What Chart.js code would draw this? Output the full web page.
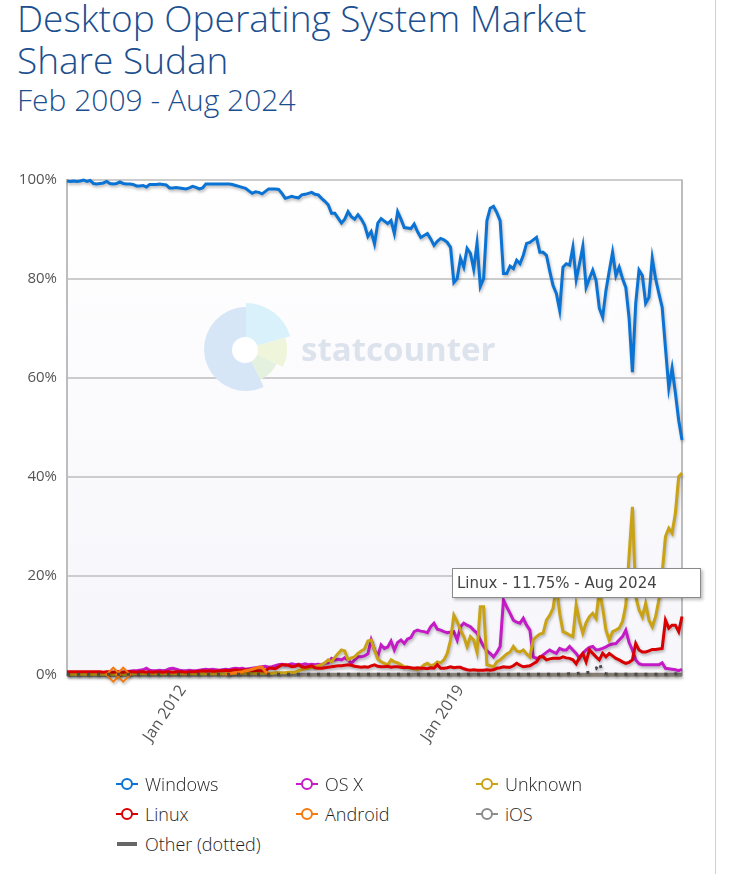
<!DOCTYPE html>
<html>
<head>
<meta charset="utf-8">
<script src="https://cdn.jsdelivr.net/npm/chart.js@4.4.1/dist/chart.umd.min.js"></script>
<style>
html, body { margin: 0; padding: 0; background: #fff; }
body { width: 729px; height: 874px; position: relative; overflow: hidden; font-family: "Open Sans", sans-serif; }
#frame { position: absolute; left: 715px; top: 0; width: 1px; height: 874px; background: #c6d2e4; }
#title { position: absolute; left: 17px; top: -3px; font-size: 37px; line-height: 42px; font-weight: 300; color: #1b4f8f; white-space: nowrap; }
#sub { position: absolute; left: 17px; top: 83px; font-size: 30px; line-height: 34px; font-weight: 300; color: #1b4f8f; white-space: nowrap; }
#chartBox { position: absolute; left: 0; top: 160px; width: 715px; height: 640px; }
#tip { position: absolute; left: 452px; top: 568px; width: 243px; height: 28px; background: #fff; border: 1px solid #8a8a8a;
       box-shadow: 2px 2px 3px rgba(0,0,0,0.25); font-family: "DejaVu Sans", sans-serif; font-size: 15px; line-height: 28px;
       color: #444; padding-left: 4px; box-sizing: content-box; white-space: nowrap; }
.leg { position: absolute; height: 22px; font-size: 18px; line-height: 22px; font-weight: 300; color: #1e1e1e; white-space: nowrap; }
.leg svg { position: absolute; left: 0; top: 4px; }
.leg span { position: absolute; left: 29px; top: 0; }
</style>
</head>
<body>
<div id="title">Desktop Operating System Market<br>Share Sudan</div>
<div id="sub">Feb 2009 - Aug 2024</div>
<div id="chartBox"><canvas id="myChart" width="715" height="640"></canvas></div>
<div id="tip">Linux - 11.75% - Aug 2024</div>
<div id="frame"></div>
<div id="legend"></div>
<script>
// monthly categories Feb 2009 .. Aug 2024
var monthNames = ["Jan", "Feb", "Mar", "Apr", "May", "Jun", "Jul", "Aug", "Sep", "Oct", "Nov", "Dec"];
var months = [];
for (var k = 0; k < 187; k++) {
    months.push(monthNames[(1 + k) % 12] + " " + (2009 + Math.floor((1 + k) / 12)));
}
var shownTicks = ["Jan 2012", "Jan 2019"];
var yTicks = [0, 20, 40, 60, 80, 100];

var windows = [
    99.7, 99.6, 99.7, 99.6, 99.7, 99.9, 99.6, 99.8, 99.2, 99.1,
    99.2, 99.3, 99.6, 99.2, 99.1, 99.2, 99.5, 99.2, 99.1, 99.1,
    99.0, 98.7, 98.7, 98.8, 98.5, 99.0, 99.0, 99.0, 99.1, 99.0,
    98.9, 98.3, 98.3, 98.4, 98.3, 98.2, 98.1, 98.3, 98.6, 98.4,
    98.1, 98.3, 99.1, 99.1, 99.1, 99.1, 99.1, 99.1, 99.1, 99.1,
    99.0, 98.8, 98.6, 98.4, 98.2, 97.7, 97.2, 97.5, 97.4, 97.1,
    97.6, 98.1, 98.1, 98.1, 98.0, 97.2, 96.2, 96.4, 96.6, 96.4,
    96.3, 96.9, 97.0, 97.2, 97.4, 97.0, 96.9, 96.2, 95.6, 94.9,
    93.2, 93.2, 92.2, 91.2, 92.0, 93.5, 92.5, 92.0, 92.9, 92.0,
    90.8, 88.5, 89.5, 87.0, 91.2, 92.1, 91.6, 91.1, 91.7, 89.1,
    93.5, 92.0, 90.3, 90.2, 90.1, 91.0, 89.5, 88.3, 88.7, 89.1,
    88.0, 86.7, 87.5, 88.1, 87.8, 87.3, 86.3, 79.2, 80.0, 84.1,
    82.3, 86.1, 85.1, 81.9, 87.1, 78.4, 80.0, 91.7, 94.2, 94.6,
    93.3, 91.7, 81.0, 81.0, 82.5, 82.0, 83.7, 83.0, 84.7, 87.1,
    87.3, 87.8, 88.3, 85.3, 85.3, 84.7, 81.5, 78.6, 77.0, 73.6,
    82.3, 83.0, 82.7, 86.3, 79.8, 83.0, 86.5, 78.2, 80.0, 81.7,
    79.6, 74.0, 72.2, 77.6, 81.5, 85.3, 80.6, 82.3, 80.0, 78.2,
    72.0, 61.1, 75.0, 81.7, 80.6, 75.0, 76.2, 84.1, 80.0, 77.0,
    74.2, 66.0, 57.9, 61.9, 56.9, 51.4, 47.4
];
var osx = [
    0.3, 0.3, 0.3, 0.3, 0.3, 0.3, 0.3, 0.3, 0.3, 0.3,
    0.3, 0.3, 0.3, 0.4, 0.4, 0.4, 0.5, 0.5, 0.6, 0.7,
    0.8, 0.8, 0.9, 1.0, 1.3, 0.9, 0.8, 0.8, 0.9, 0.8,
    0.9, 1.2, 1.3, 1.1, 0.9, 0.8, 0.8, 0.9, 0.8, 0.8,
    0.9, 1.0, 1.1, 1.0, 1.1, 1.0, 0.9, 1.0, 1.1, 1.0,
    1.2, 1.3, 1.2, 1.3, 1.1, 1.2, 1.3, 1.4, 1.5, 1.6,
    1.7, 1.5, 1.6, 1.8, 2.0, 2.1, 1.9, 2.0, 2.2, 2.0,
    2.1, 2.0, 2.2, 2.0, 2.1, 2.0, 2.1, 2.0, 2.3, 2.4,
    3.3, 3.0, 3.1, 3.0, 3.4, 3.0, 2.3, 3.0, 3.6, 3.6,
    3.8, 4.2, 7.0, 5.0, 3.8, 6.0, 5.3, 5.6, 6.8, 5.0,
    6.5, 7.0, 6.3, 7.2, 7.5, 8.7, 9.0, 8.8, 8.7, 8.5,
    9.7, 10.4, 9.2, 9.0, 8.7, 8.5, 8.6, 8.7, 7.0, 9.7,
    10.4, 10.0, 9.7, 9.0, 8.4, 7.0, 5.7, 4.8, 4.3, 3.6,
    4.5, 5.7, 15.1, 13.7, 12.4, 11.0, 10.6, 10.4, 11.4, 10.0,
    9.0, 3.6, 3.3, 3.5, 4.0, 4.5, 5.0, 4.6, 4.3, 5.3,
    5.0, 5.0, 5.7, 5.0, 4.3, 3.3, 4.3, 5.0, 5.5, 5.7,
    5.0, 5.1, 5.3, 5.6, 6.0, 6.2, 6.3, 7.0, 7.7, 9.0,
    6.5, 5.0, 3.0, 2.2, 2.0, 2.0, 2.0, 2.0, 2.0, 2.0,
    2.4, 1.3, 1.2, 1.1, 1.0, 0.8, 1.1
];
var unknown = [
    0.1, 0.1, 0.1, 0.1, 0.1, 0.1, 0.1, 0.1, 0.1, 0.1,
    0.1, 0.1, 0.1, 0.1, 0.1, 0.1, 0.1, 0.1, 0.1, 0.1,
    0.2, 0.2, 0.2, 0.2, 0.2, 0.2, 0.2, 0.2, 0.2, 0.2,
    0.2, 0.2, 0.2, 0.2, 0.2, 0.2, 0.2, 0.2, 0.2, 0.2,
    0.2, 0.2, 0.2, 0.2, 0.2, 0.2, 0.2, 0.2, 0.2, 0.2,
    0.3, 0.3, 0.3, 0.3, 0.3, 0.3, 0.3, 0.3, 0.3, 0.3,
    0.3, 0.3, 0.3, 0.4, 0.4, 0.4, 0.4, 0.5, 0.5, 0.5,
    0.8, 1.0, 1.2, 1.3, 1.5, 1.6, 1.8, 2.0, 2.4, 3.0,
    2.6, 3.5, 4.3, 5.0, 4.8, 3.0, 3.4, 3.6, 4.3, 4.8,
    5.2, 6.8, 7.0, 5.0, 3.2, 2.6, 2.3, 2.0, 3.0, 2.6,
    2.4, 2.0, 1.6, 1.5, 1.3, 1.2, 1.0, 1.4, 2.0, 2.3,
    1.8, 2.0, 2.6, 2.4, 3.0, 4.3, 7.0, 12.0, 10.7, 9.0,
    7.7, 5.7, 7.7, 7.0, 4.6, 13.7, 13.7, 2.0, 1.8, 1.6,
    2.6, 3.0, 3.6, 4.2, 4.6, 5.7, 4.8, 4.6, 5.0, 4.2,
    3.6, 7.0, 7.7, 8.2, 8.4, 11.0, 12.0, 13.4, 18.0, 12.4,
    8.7, 8.4, 8.0, 7.7, 14.1, 10.7, 8.4, 10.5, 11.7, 12.4,
    11.4, 17.0, 13.5, 9.0, 7.0, 8.7, 9.0, 9.4, 10.7, 14.0,
    24.0, 33.9, 15.8, 13.1, 11.7, 14.4, 11.0, 9.7, 11.7, 15.1,
    20.5, 27.9, 29.6, 28.6, 32.6, 40.0, 40.7
];
var linux = [
    0.6, 0.6, 0.6, 0.6, 0.6, 0.6, 0.6, 0.6, 0.6, 0.6,
    0.6, 0.5, 0.6, 0.6, 0.5, 0.6, 0.6, 0.5, 0.6, 0.6,
    0.6, 0.5, 0.6, 0.6, 0.5, 0.6, 0.5, 0.6, 0.6, 0.5,
    0.6, 0.6, 0.5, 0.6, 0.6, 0.6, 0.5, 0.6, 0.6, 0.6,
    0.7, 0.8, 0.7, 0.8, 0.7, 0.7, 0.8, 0.8, 0.9, 0.8,
    0.9, 1.0, 0.9, 0.9, 1.0, 0.9, 0.8, 0.9, 0.8, 0.8,
    0.8, 1.3, 1.3, 1.2, 1.6, 2.0, 2.0, 1.9, 1.6, 1.7,
    2.0, 1.6, 1.5, 1.6, 1.8, 1.4, 1.3, 1.3, 1.4, 1.5,
    1.6, 1.7, 1.8, 1.8, 1.9, 2.0, 1.9, 1.7, 1.6, 1.5,
    1.6, 1.5, 1.8, 2.0, 1.7, 1.6, 1.6, 1.7, 1.5, 1.6,
    1.6, 1.5, 1.4, 1.5, 1.4, 1.3, 1.4, 1.3, 1.3, 1.2,
    1.4, 1.3, 2.0, 1.3, 1.3, 1.4, 1.6, 1.4, 1.5, 1.5,
    1.2, 1.0, 0.9, 1.0, 0.9, 0.9, 0.9, 1.0, 0.9, 1.0,
    1.3, 1.4, 1.6, 1.5, 1.5, 1.8, 2.3, 1.9, 1.6, 1.7,
    1.8, 2.2, 2.6, 3.6, 3.6, 3.0, 3.2, 3.3, 3.3, 3.3,
    3.6, 3.4, 3.3, 3.0, 2.2, 3.5, 4.3, 2.6, 5.0, 4.3,
    3.6, 3.0, 4.3, 3.6, 4.3, 3.8, 3.3, 3.0, 2.6, 2.3,
    2.5, 3.0, 6.3, 5.0, 4.6, 4.6, 4.8, 5.1, 5.1, 5.2,
    5.3, 11.0, 9.4, 10.0, 10.0, 8.7, 11.75
];
// android only has a few early months
var android = [
    null, null, null, null, null, null, null, null, null, null,
    null, null, null, null, 0, null, null, 0, null, null,
    null, null, null, null, null, null, null, null, null, null,
    null, null, null, null, null, null, null, null, null, null,
    null, null, null, null, null, null, null, null, 0.1, 0.2,
    0.3, 0.4, 0.5, 0.6, 0.8, 0.9, 1.1, 1.3, 1.5, 1.5,
    0.6, 0.2
];
var ios = [
    0, 0, 0, 0, 0, 0, 0, 0, 0, 0, 0, 0, 0, 0, 0, 0, 0, 0, 0, 0,
    0, 0, 0, 0, 0, 0, 0, 0, 0, 0, 0, 0, 0, 0, 0, 0, 0, 0, 0, 0,
    0, 0, 0, 0, 0, 0, 0, 0, 0, 0, 0, 0, 0, 0, 0, 0, 0, 0, 0, 0,
    0, 0, 0, 0, 0, 0, 0, 0, 0, 0, 0, 0, 0, 0, 0, 0, 0, 0, 0, 0,
    0, 0, 0, 0, 0, 0, 0, 0, 0, 0, 0, 0, 0, 0, 0, 0, 0, 0, 0, 0,
    0, 0, 0, 0, 0, 0, 0, 0, 0, 0, 0, 0, 0, 0, 0, 0, 0, 0, 0, 0,
    0, 0, 0, 0, 0, 0, 0, 0, 0, 0, 0, 0, 0, 0, 0, 0, 0, 0, 0, 0,
    0, 0, 0, 0, 0, 0, 0, 0, 0, 0, 0, 0, 0, 0, 0, 0, 0, 0, 0, 0,
    0, 0, 0, 0, 0, 0, 0, 0, 0, 0, 0, 0, 0, 0, 0, 0, 0, 0, 0, 0,
    0, 0, 0, 0, 0, 0, 0
];
var other = [
    0.1, 0.1, 0.1, 0.1, 0.1, 0.1, 0.1, 0.1, 0.1, 0.1,
    0.1, 0.1, 0.1, 0.1, 0.1, 0.1, 0.1, 0.1, 0.1, 0.1,
    0.1, 0.1, 0.1, 0.1, 0.1, 0.1, 0.1, 0.1, 0.1, 0.1,
    0.1, 0.1, 0.1, 0.1, 0.1, 0.1, 0.1, 0.1, 0.1, 0.1,
    0.1, 0.1, 0.1, 0.1, 0.1, 0.1, 0.1, 0.1, 0.1, 0.1,
    0.1, 0.1, 0.1, 0.1, 0.1, 0.1, 0.1, 0.1, 0.1, 0.1,
    0.1, 0.1, 0.1, 0.1, 0.1, 0.1, 0.1, 0.1, 0.1, 0.1,
    0.1, 0.1, 0.1, 0.1, 0.1, 0.1, 0.1, 0.1, 0.1, 0.1,
    0.1, 0.1, 0.1, 0.1, 0.1, 0.1, 0.1, 0.1, 0.1, 0.1,
    0.1, 0.1, 0.1, 0.1, 0.1, 0.1, 0.1, 0.1, 0.1, 0.1,
    0.1, 0.1, 0.1, 0.1, 0.1, 0.1, 0.1, 0.1, 0.1, 0.1,
    0.1, 0.1, 0.1, 0.1, 0.1, 0.1, 0.1, 0.1, 0.1, 0.1,
    0.1, 0.1, 0.1, 0.1, 0.1, 0.1, 0.1, 0.1, 0.1, 0.1,
    0.1, 0.1, 0.1, 0.1, 0.1, 0.1, 0.1, 0.1, 0.1, 0.1,
    0.1, 0.1, 0.1, 0.1, 0.1, 0.1, 0.1, 0.1, 0.1, 0.1,
    0.1, 0.1, 0.2, 0.1, 0.2, 0.3, 0.6, 0.4, 0.5, 1.0,
    1.2, 2.4, 0.4, 0.2, 0.1, 0.2, 0.1, 0.1, 0.2, 0.1,
    0.1, 0.1, 0.1, 0.1, 0.1, 0.1, 0.1, 0.1, 0.1, 0.1,
    0.2, 0.1, 0.1, 0.1, 0.2, 0.1, 0.1
];

var series = [
    { name: "Windows", data: windows, color: "#0b73d3", order: 2, width: 3 },
    { name: "OS X", data: osx, color: "#c51bc7", order: 5, width: 3 },
    { name: "Unknown", data: unknown, color: "#c9a315", order: 4, width: 3 },
    { name: "Linux", data: linux, color: "#d80000", order: 3, width: 3 },
    { name: "Android", data: android, color: "#f57a10", order: 1, width: 3 },
    { name: "iOS", data: ios, color: "#877f76", order: 6, width: 4 },
    { name: "Other (dotted)", data: other, color: "#4a4a4a", order: 0, width: 3, dotted: true }
];

// lone points (no neighbours) get a marker, like the original
function lonePoint(c) {
    var d = c.dataset.data, i = c.dataIndex;
    return (d[i] != null && d[i - 1] == null && d[i + 1] == null) ? 7 : 0;
}

var datasets = series.map(function (s) {
    return {
        label: s.name,
        data: s.data,
        borderColor: s.color,
        backgroundColor: s.color,
        borderWidth: s.width,
        borderDash: s.dotted ? [3, 7] : [],
        pointRadius: lonePoint,
        pointStyle: "rectRot",
        pointBorderWidth: 2,
        pointBackgroundColor: "rgba(0,0,0,0)",
        tension: 0,
        fill: false,
        spanGaps: false,
        clip: false,
        order: s.order
    };
});

var shadowPlugin = {
    id: "shadow",
    beforeDatasetDraw: function (chart) {
        var c = chart.ctx;
        c.save();
        c.shadowColor = "rgba(0,0,0,0.28)";
        c.shadowBlur = 3;
        c.shadowOffsetX = 1;
        c.shadowOffsetY = 2;
    },
    afterDatasetDraw: function (chart) {
        chart.ctx.restore();
    }
};

var backdropPlugin = {
    id: "backdrop",
    beforeDraw: function (chart) {
        var a = chart.chartArea, c = chart.ctx;
        var g = c.createLinearGradient(0, a.top, 0, a.bottom);
        g.addColorStop(0, "#ffffff");
        g.addColorStop(1, "#f6f6fb");
        c.save();
        c.fillStyle = g;
        c.fillRect(a.left, a.top, a.right - a.left, a.bottom - a.top);
        c.restore();
    },
    beforeDatasetsDraw: function (chart) {
        var a = chart.chartArea, c = chart.ctx;
        c.save();
        // watermark
        var cx = 246, cy = 349 - 160;
        function wedge(r, from, to, col) {
            c.beginPath();
            c.moveTo(cx, cy);
            c.arc(cx, cy, r, from * Math.PI / 180, to * Math.PI / 180);
            c.closePath();
            c.fillStyle = col;
            c.fill();
        }
        wedge(42, 65, 270, "#d7e6f6");
        wedge(46, -90, -16, "#d9f1fb");
        wedge(41, -16, 26, "#eff5da");
        wedge(34, 26, 65, "#e4f1de");
        c.beginPath();
        c.arc(cx - 1, cy + 1, 13, 0, Math.PI * 2);
        c.fillStyle = "#ffffff";
        c.fill();
        c.font = "bold 33px 'Open Sans'";
        c.fillStyle = "#dde3ed";
        c.textBaseline = "alphabetic";
        c.fillText("statcounter", 301, 361 - 160);
        // right frame line
        c.strokeStyle = "#bdbdbd";
        c.lineWidth = 2;
        c.beginPath();
        c.moveTo(a.right, a.top);
        c.lineTo(a.right, a.bottom);
        c.stroke();
        c.restore();
    }
};

var ctx = document.getElementById("myChart");
var myChart = new Chart(ctx, {
    type: "line",
    data: { labels: months, datasets: datasets },
    options: {
        responsive: false,
        animation: false,
        events: [],
        layout: { padding: { left: 0, right: 33, top: 19.5, bottom: 0 } },
        plugins: { legend: { display: false }, tooltip: { enabled: false } },
        scales: {
            x: {
                grid: { display: false, drawTicks: false },
                border: { display: true, color: "#bdbdbd", width: 2 },
                afterFit: function (s) { s.height = 125.3; },
                ticks: {
                    autoSkip: false,
                    minRotation: 56,
                    maxRotation: 56,
                    padding: 7,
                    color: "#555",
                    font: { family: "'Open Sans'", size: 16 },
                    callback: function (v) {
                        var l = this.getLabelForValue(v);
                        return shownTicks.indexOf(l) >= 0 ? l : "";
                    }
                }
            },
            y: {
                min: 0,
                max: 100,
                afterFit: function (s) { s.width = 67; },
                afterBuildTicks: function (s) { s.ticks = yTicks.map(function (v) { return { value: v }; }); },
                grid: { color: "#cccccc", lineWidth: 2, drawTicks: false },
                border: { display: true, color: "#bdbdbd", width: 2 },
                ticks: {
                    padding: 10,
                    color: "#555",
                    font: { family: "'Open Sans'", size: 15 },
                    callback: function (v) { return v + "%"; }
                }
            }
        }
    },
    plugins: [backdropPlugin, shadowPlugin]
});

// legend, three columns like the original
var legendPos = [[116, 773], [296, 773], [476, 773], [116, 803], [296, 803], [476, 803], [116, 833]];
var legendBox = document.getElementById("legend");
series.forEach(function (s, i) {
    var el = document.createElement("div");
    el.className = "leg";
    el.style.left = legendPos[i][0] + "px";
    el.style.top = legendPos[i][1] + "px";
    var col = s.name === "iOS" ? "#8c8c8c" : s.color;
    var mark = s.dotted
        ? '<svg width="22" height="14"><line x1="1" y1="7" x2="21" y2="7" stroke="#666" stroke-width="4"/></svg>'
        : '<svg width="22" height="14"><line x1="0" y1="7" x2="22" y2="7" stroke="' + col + '" stroke-width="2"/>' +
          '<circle cx="11" cy="7" r="5" fill="#fff" stroke="' + col + '" stroke-width="2"/></svg>';
    el.innerHTML = mark + "<span>" + s.name + "</span>";
    legendBox.appendChild(el);
});
</script>
</body>
</html>
